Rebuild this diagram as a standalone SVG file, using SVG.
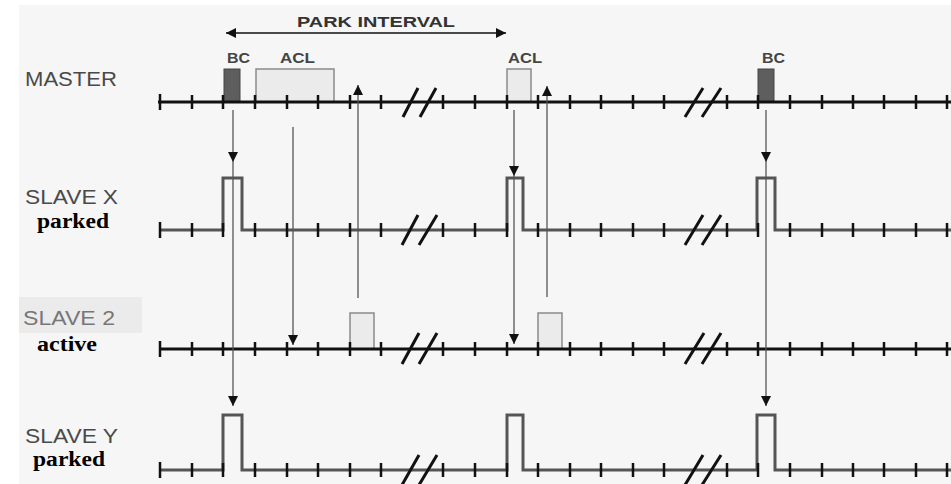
<svg xmlns="http://www.w3.org/2000/svg" width="951" height="484" viewBox="0 0 951 484">
<style>
.lbl{font-family:"Liberation Sans",Arial,sans-serif;font-size:20px;fill:#4a4a4a}
.st{font-family:"Liberation Serif","Times New Roman",serif;font-size:20px;font-weight:bold;fill:#000}
.sm{font-family:"Liberation Sans",Arial,sans-serif;font-size:14px;font-weight:bold;fill:#444}
.axis{stroke:#111;stroke-width:3;fill:none}
.axisg{stroke:#555;stroke-width:3;fill:none}
.tick{stroke:#111;stroke-width:2.5;fill:none}
.bc{fill:#5e5e5e;stroke:#444;stroke-width:1}
.acl{fill:#ebebeb;stroke:#8a8a8a;stroke-width:1.5}
.slash{stroke:#111;stroke-width:3}
.conn{stroke:#555;stroke-width:1.3;fill:none}
</style>
<defs>
<marker id="ah" markerWidth="10" markerHeight="10" refX="10" refY="5" orient="auto-start-reverse" markerUnits="userSpaceOnUse">
<path d="M0,0 L10,5 L0,10 z" fill="#111"/>
</marker>
</defs>
<rect x="0" y="0" width="951" height="484" fill="#ffffff"/>
<rect x="19" y="5" width="932" height="479" fill="#f6f6f6"/>

<g id="park-interval">
<line x1="226" y1="33" x2="506" y2="33" stroke="#111" stroke-width="1.5" marker-start="url(#ah)" marker-end="url(#ah)"/>
<text class="sm" x="297" y="27" font-size="16" style="fill:#333" textLength="158" lengthAdjust="spacingAndGlyphs">PARK INTERVAL</text>
</g>

<g id="master">
<text class="lbl" x="25" y="86" textLength="92" lengthAdjust="spacingAndGlyphs">MASTER</text>
<rect class="acl" x="256" y="69" width="78" height="33"/>
<rect class="acl" x="507" y="69" width="24" height="33"/>
<rect class="bc" x="224" y="69" width="16" height="33"/>
<rect class="bc" x="758" y="69" width="16" height="33"/>
<text class="sm" x="227" y="63" textLength="23" lengthAdjust="spacingAndGlyphs">BC</text>
<text class="sm" x="280" y="63" textLength="35" lengthAdjust="spacingAndGlyphs">ACL</text>
<text class="sm" x="508" y="63" textLength="34" lengthAdjust="spacingAndGlyphs">ACL</text>
<text class="sm" x="762" y="63" textLength="23" lengthAdjust="spacingAndGlyphs">BC</text>
<line class="axis" x1="158" y1="102" x2="951" y2="102"/>
<path class="tick" d="M160,94v16M192,95v14M223,95v14M255,95v14M287,95v14M318,95v14M350,95v14M381,95v14M443,95v14M475,95v14M507,95v14M538,95v14M570,95v14M601,95v14M633,95v14M664,95v14M727,95v14M758,95v14M790,95v14M822,95v14M853,95v14M884,95v14M916,95v14M947,95v14"/>
<path class="slash" d="M403,117L418,88M420,117L436,88M685,117L703,88M702,117L721,88"/>
</g>

<g id="slaveX">
<text class="lbl" x="25" y="204" textLength="93" lengthAdjust="spacingAndGlyphs">SLAVE X</text>
<text class="st" x="37" y="228" textLength="72" lengthAdjust="spacingAndGlyphs">parked</text>
<path class="axisg" d="M160,230H223V178H242V230H507V178H523V230H757V178H775V230H951"/>
<path class="tick" d="M160,222v16M192,223v14M223,223v14M255,223v14M287,223v14M318,223v14M350,223v14M381,223v14M443,223v14M475,223v14M507,223v14M538,223v14M570,223v14M601,223v14M633,223v14M664,223v14M727,223v14M758,223v14M790,223v14M822,223v14M853,223v14M884,223v14M916,223v14M947,223v14"/>
<path class="slash" d="M402,245L418,215M419,245L437,215M685,245L703,215M702,245L721,215"/>
</g>

<g id="slave2">
<rect x="19" y="297" width="123" height="36" fill="#ebebeb"/>
<text class="lbl" x="23" y="325" style="fill:#777" textLength="92" lengthAdjust="spacingAndGlyphs">SLAVE 2</text>
<text class="st" x="37" y="351" textLength="60" lengthAdjust="spacingAndGlyphs">active</text>
<rect class="acl" x="350" y="313" width="24" height="36"/>
<rect class="acl" x="538" y="313" width="24" height="36"/>
<line class="axis" x1="160" y1="349" x2="951" y2="349"/>
<path class="tick" d="M160,341v16M192,342v14M223,342v14M255,342v14M287,342v14M318,342v14M350,342v14M381,342v14M443,342v14M475,342v14M507,342v14M538,342v14M570,342v14M601,342v14M633,342v14M664,342v14M727,342v14M758,342v14M790,342v14M822,342v14M853,342v14M884,342v14M916,342v14M947,342v14"/>
<path class="slash" d="M402,364L419,333M419,364L437,333M685,364L704,333M702,364L721,333"/>
</g>

<g id="slaveY">
<text class="lbl" x="25" y="443" textLength="93" lengthAdjust="spacingAndGlyphs">SLAVE Y</text>
<text class="st" x="33" y="466" textLength="72" lengthAdjust="spacingAndGlyphs">parked</text>
<path class="axisg" d="M160,470H223V415H242V470H507V415H523V470H757V415H775V470H951"/>
<path class="tick" d="M160,462v16M192,463v14M223,463v14M255,463v14M287,463v14M318,463v14M350,463v14M381,463v14M443,463v14M475,463v14M507,463v14M538,463v14M570,463v14M601,463v14M633,463v14M664,463v14M727,463v14M758,463v14M790,463v14M822,463v14M853,463v14M884,463v14M916,463v14M947,463v14"/>
<path class="slash" d="M402,485L419,455M419,485L437,455M685,485L703,455M702,485L721,455"/>
</g>

<g id="connectors">
<line class="conn" x1="233" y1="110" x2="233" y2="162" marker-end="url(#ah)"/>
<line class="conn" x1="233" y1="162" x2="233" y2="406" marker-end="url(#ah)"/>
<line class="conn" x1="293" y1="127" x2="293" y2="345" marker-end="url(#ah)"/>
<line class="conn" x1="358" y1="298" x2="358" y2="85" marker-end="url(#ah)"/>
<line class="conn" x1="514" y1="110" x2="514" y2="176" marker-end="url(#ah)"/>
<line class="conn" x1="514" y1="176" x2="514" y2="344" marker-end="url(#ah)"/>
<line class="conn" x1="547" y1="297" x2="547" y2="86" marker-end="url(#ah)"/>
<line class="conn" x1="766" y1="110" x2="766" y2="162" marker-end="url(#ah)"/>
<line class="conn" x1="766" y1="162" x2="766" y2="406" marker-end="url(#ah)"/>
</g>
</svg>
